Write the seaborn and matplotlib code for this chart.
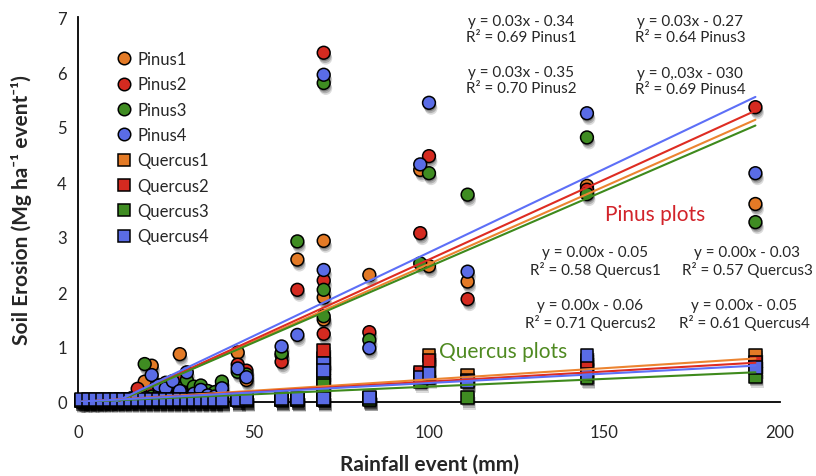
import numpy as np
import pandas as pd
import matplotlib
matplotlib.use('Agg')
import matplotlib.pyplot as plt
import matplotlib.patheffects as pe
from matplotlib.lines import Line2D
from matplotlib.ticker import MultipleLocator
import seaborn as sns

nan = np.nan

# rainfall events (mm), shared by all plots
rain_mm = [1, 3, 5, 7, 9, 11, 13, 15, 17, 19, 21, 23, 25, 27, 29, 31, 33, 35, 37, 39, 41,
           45.5, 48, 58, 62.5, 70, 70, 70, 83, 97.5, 100, 111, 145, 145, 193]

# soil erosion (Mg ha-1 event-1)
pinus1 = [0.02, 0.03, 0.02, 0.04, 0.03, 0.05, 0.04, 0.06, 0.08,
          0.37, 0.66, 0.20, 0.15, 0.25, 0.87, 0.30, 0.20, 0.10, 0.12, 0.05, 0.30,
          0.90, 0.40, 0.85, 2.59, 2.93, 1.90, 1.50, 2.31, 4.22, 2.47, 2.19, nan, 3.93, 3.60]
pinus2 = [0.02, 0.02, 0.03, 0.03, 0.04, 0.04, 0.05, 0.06, 0.24,
          0.10, 0.15, 0.30, 0.35, 0.30, 0.40, 0.35, 0.25, 0.20, 0.15, 0.10, 0.20,
          0.68, 0.57, 0.73, 2.04, 6.35, 2.21, 1.24, 1.27, 3.07, 4.47, 1.87, nan, 3.86, 5.36]
pinus3 = [0.02, 0.03, 0.02, 0.03, 0.04, 0.05, 0.05, 0.06, 0.07,
          0.69, 0.10, 0.12, 0.20, 0.33, 0.25, 0.40, 0.28, 0.30, 0.20, 0.18, 0.37,
          0.55, 0.50, 0.89, 2.92, 5.80, 2.04, 1.56, 1.13, 2.52, 4.16, 3.77, 4.81, 3.78, 3.27]
pinus4 = [0.02, 0.02, 0.03, 0.03, 0.04, 0.04, 0.05, 0.05, 0.06,
          0.08, 0.49, 0.30, 0.25, 0.38, 0.20, 0.54, 0.15, 0.22, 0.12, 0.10, 0.25,
          0.61, 0.45, 1.01, 1.22, 5.95, 2.40, 0.70, 0.98, 4.32, 5.44, 2.37, 5.25, nan, 4.16]
quercus1 = [0.03] * 21 + [0.05, 0.05, 0.05, 0.05, 0.80, 0.30, 0.05, 0.06, 0.50, 0.85, 0.49, 0.75, nan, 0.84]
quercus2 = [0.03] * 21 + [0.04, 0.05, 0.05, 0.05, 0.93, 0.42, 0.05, 0.06, 0.54, 0.75, 0.40, 0.67, nan, 0.72]
quercus3 = [0.02] * 21 + [0.04, 0.04, 0.04, 0.04, 0.50, 0.30, 0.04, 0.05, 0.38, 0.45, 0.08, 0.45, nan, 0.47]
quercus4 = [0.05] * 21 + [0.05, 0.06, 0.06, 0.06, 0.70, 0.58, 0.07, 0.08, 0.45, 0.52, 0.38, 0.84, 0.51, 0.63]

series_names = ['Pinus1', 'Pinus2', 'Pinus3', 'Pinus4',
                'Quercus1', 'Quercus2', 'Quercus3', 'Quercus4']
series_vals = [pinus1, pinus2, pinus3, pinus4, quercus1, quercus2, quercus3, quercus4]

# linear trendlines (slope, intercept) as drawn
trend_slope = [0.0282, 0.0291, 0.0276, 0.0304, 0.0041, 0.0037, 0.0028, 0.0034]
trend_icpt = [-0.31, -0.32, -0.30, -0.32, 0.0, 0.0, 0.0, 0.005]

eq_labels = ['y = 0.03x - 0.34\nR² = 0.69 Pinus1',
             'y = 0.03x - 0.35\nR² = 0.70 Pinus2',
             'y = 0.03x - 0.27\nR² = 0.64 Pinus3',
             'y = 0,.03x - 030\nR² = 0.69 Pinus4',
             'y = 0.00x - 0.05\nR² = 0.58 Quercus1',
             'y = 0.00x - 0.06\nR² = 0.71 Quercus2',
             'y = 0.00x - 0.03\nR² = 0.57 Quercus3',
             'y = 0.00x - 0.05\nR² = 0.61 Quercus4']

marker_cols = ['#E37A26', '#D42A20', '#3F8C22', '#5A6CE6'] * 2
line_cols = ['#EC8430', '#DE2C22', '#3E8A1C', '#5D6FF7'] * 2
marker_kind = ['o'] * 4 + ['s'] * 4

sns.set_style('white')
plt.rcParams['font.family'] = ['Lato', 'DejaVu Sans']

df = pd.concat([pd.DataFrame({'rain': rain_mm, 'erosion': v, 'series': n})
                for n, v in zip(series_names, series_vals)], ignore_index=True).dropna()

fig = plt.figure(figsize=(8.16, 4.77), dpi=100)
ax = fig.add_axes([78 / 816, 74 / 477, 702 / 816, 385 / 477])

sns.scatterplot(data=df, x='rain', y='erosion', hue='series', style='series',
                palette=dict(zip(series_names, marker_cols)),
                markers=dict(zip(series_names, marker_kind)),
                s=85, edgecolor='black', linewidth=1.1, legend=False,
                ax=ax, clip_on=False, zorder=3)
# soft drop shadow under the markers
ax.collections[0].set_path_effects([
    pe.SimplePatchShadow(offset=(0.5, -1.5), shadow_rgbFace='black', alpha=0.25),
    pe.SimplePatchShadow(offset=(1.0, -2.8), shadow_rgbFace='black', alpha=0.2),
    pe.SimplePatchShadow(offset=(1.5, -4.0), shadow_rgbFace='black', alpha=0.14),
    pe.Normal()])

# trendlines over the rainfall range
xr = np.array([min(rain_mm), max(rain_mm)])
for a, b, c in zip(trend_slope, trend_icpt, line_cols):
    ax.plot(xr, a * xr + b, color=c, lw=1.5, zorder=4)

ax.set_xlim(0, 200)
ax.set_ylim(0, 7)
ax.xaxis.set_major_locator(MultipleLocator(50))
ax.xaxis.set_minor_locator(MultipleLocator(10))
ax.yaxis.set_major_locator(MultipleLocator(1))
ax.yaxis.set_minor_locator(MultipleLocator(0.2))
ax.tick_params(which='both', direction='in', width=1.1, color='black', labelsize=12)
ax.tick_params(which='major', length=5)
ax.tick_params(which='minor', length=4)
ax.tick_params(axis='x', pad=16)
ax.tick_params(axis='y', pad=8)

sns.despine(ax=ax)
for sp in ['left', 'bottom']:
    ax.spines[sp].set_color('black')
    ax.spines[sp].set_linewidth(1.3)

ax.set_xlabel('Rainfall event (mm)', fontsize=15, fontweight='bold')
ax.set_ylabel('Soil Erosion (Mg ha⁻¹ event⁻¹)', fontsize=15, fontweight='bold')
ax.xaxis.set_label_coords(0.5, -0.135)
ax.yaxis.set_label_coords(-0.066, 0.5)

# equation boxes (axes fraction positions)
eq_pos = [(521, 30), (521, 81), (690, 30), (690, 82),
          (595, 262), (590, 315), (747, 262), (744, 315)]
for lab, (px, py) in zip(eq_labels, eq_pos):
    ax.text((px - 78) / 702, (403 - py) / 385, lab, transform=ax.transAxes,
            ha='center', va='center', fontsize=11, linespacing=1.2)

ax.text((655 - 78) / 702, (403 - 215) / 385, 'Pinus plots', transform=ax.transAxes,
        ha='center', va='center', fontsize=15, color='#D2232A')
ax.text((503 - 78) / 702, (403 - 352) / 385, 'Quercus plots', transform=ax.transAxes,
        ha='center', va='center', fontsize=15, color='#4F8A21')

handles = [Line2D([], [], marker=m, linestyle='none', markerfacecolor=c,
                  markeredgecolor='black', markeredgewidth=1.1, markersize=9)
           for m, c in zip(marker_kind, marker_cols)]
ax.legend(handles, series_names, loc='upper left',
          bbox_to_anchor=((116 - 78) / 702, (403 - 52) / 385),
          frameon=False, fontsize=12, handlelength=1.0, handletextpad=0.3,
          labelspacing=0.56, borderpad=0, borderaxespad=0)

fig.savefig('out.png', dpi=100)
